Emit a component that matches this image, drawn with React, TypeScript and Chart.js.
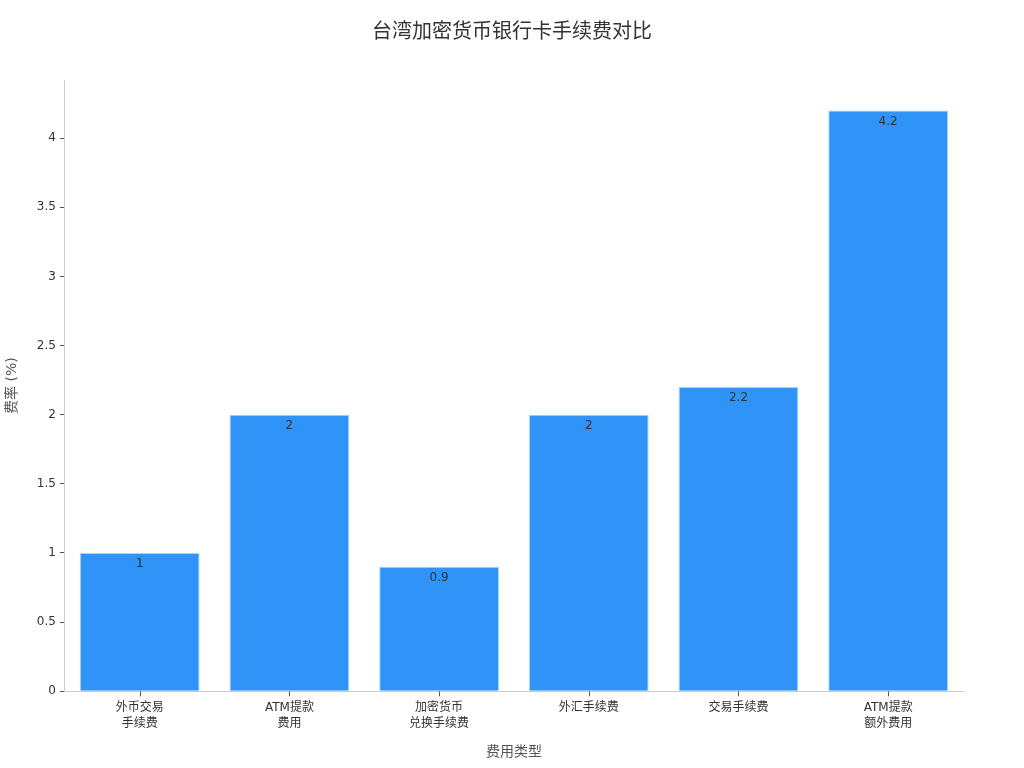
import { useEffect, useRef } from 'react';
import { Chart, registerables, type Plugin } from 'chart.js';

Chart.register(...registerables);

const FONT = '"DejaVu Sans", "Noto Sans CJK SC", sans-serif';

const chartTitle = '台湾加密货币银行卡手续费对比';
const categories: string[][] = [
  ['外币交易', '手续费'],
  ['ATM提款', '费用'],
  ['加密货币', '兑换手续费'],
  ['外汇手续费'],
  ['交易手续费'],
  ['ATM提款', '额外费用'],
];
const feeRates = [1, 2, 0.9, 2, 2.2, 4.2];

const barLabels: Plugin<'bar'> = {
  id: 'barLabels',
  afterDatasetsDraw(chart) {
    const ctx = chart.ctx;
    const meta = chart.getDatasetMeta(0);
    const bottom = chart.chartArea.bottom;
    ctx.save();
    ctx.font = `12px ${FONT}`;
    ctx.fillStyle = '#333333';
    ctx.textAlign = 'center';
    ctx.textBaseline = 'top';
    meta.data.forEach((bar, i) => {
      ctx.fillText(String(feeRates[i]), bar.x, bar.y + 5);
      // small tick mark under each category
      ctx.strokeStyle = '#555555';
      ctx.lineWidth = 1;
      ctx.beginPath();
      ctx.moveTo(Math.round(bar.x) + 0.5, bottom);
      ctx.lineTo(Math.round(bar.x) + 0.5, bottom + 5);
      ctx.stroke();
    });
    // title centred over the whole canvas
    ctx.font = `20px ${FONT}`;
    ctx.textBaseline = 'middle';
    ctx.fillText(chartTitle, chart.width / 2, 33);
    ctx.restore();
  },
};

export default function App() {
  const canvas = useRef<HTMLCanvasElement>(null);

  useEffect(() => {
    document.body.style.margin = '0';
    const current = canvas.current;
    if (!current) return;
    const chart = new Chart(current, {
      type: 'bar',
      data: {
        labels: categories,
        datasets: [
          {
            label: '费率',
            data: feeRates,
            backgroundColor: '#2f93f8',
            borderColor: '#a9d3fb',
            borderWidth: 1,
            barPercentage: 0.8,
            categoryPercentage: 1,
          },
        ],
      },
      options: {
        responsive: false,
        animation: false,
        layout: { padding: { left: 0, right: 61, top: 80, bottom: 3 } },
        plugins: {
          legend: { display: false },
          tooltip: { enabled: false },
        },
        scales: {
          x: {
            grid: {
              display: false,
              drawTicks: true,
              tickLength: 5,
            },
            border: { color: '#cccccc' },
            ticks: {
              color: '#333333',
              font: { family: FONT, size: 12, lineHeight: 1.33 },
              padding: 4,
            },
            title: {
              display: true,
              text: '费用类型',
              color: '#555555',
              font: { family: FONT, size: 14 },
              padding: { top: 8 },
            },
          },
          y: {
            min: 0,
            max: 4.42,
            grid: {
              display: true,
              drawOnChartArea: false,
              drawTicks: true,
              tickLength: 5,
              color: '#555555',
            },
            border: { color: '#cccccc' },
            ticks: {
              stepSize: 0.5,
              color: '#333333',
              font: { family: FONT, size: 12 },
              padding: 4,
              callback: (v) => String(Number(v)),
            },
            afterBuildTicks: (axis) => {
              axis.ticks = axis.ticks.filter((t) => t.value <= 4.2);
            },
            title: {
              display: true,
              text: '费率 (%)',
              color: '#555555',
              font: { family: FONT, size: 14 },
              padding: { bottom: 12 },
            },
          },
        },
      },
      plugins: [barLabels],
    });
    return () => chart.destroy();
  }, []);

  return (
    <div style={{ width: 1024, height: 768 }}>
      <canvas ref={canvas} width={1024} height={768}></canvas>
    </div>
  );
}
